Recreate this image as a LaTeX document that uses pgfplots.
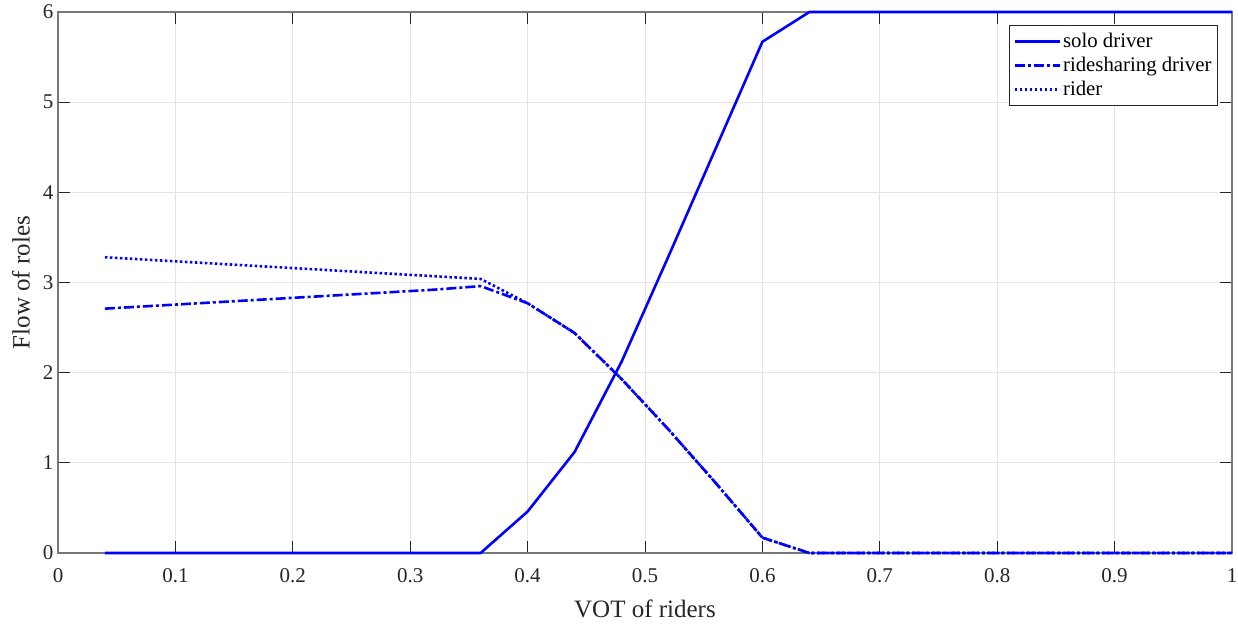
\documentclass[border=0pt]{standalone}
\usepackage{fontspec}
\setmainfont{Liberation Serif}
\usepackage{pgfplots}
\pgfplotsset{compat=1.18}
\definecolor{gridc}{RGB}{228,228,228}
\definecolor{axc}{RGB}{120,120,120}
\definecolor{mblue}{RGB}{0,0,255}
\begin{document}
\begin{tikzpicture}
\begin{axis}[
  scale only axis, width=1174pt, height=541pt,
  at={(0,0)}, anchor=south west,
  xmin=0, xmax=1, ymin=0, ymax=6,
  clip=false, no markers,
  xtick={0,0.1,0.2,0.3,0.4,0.5,0.6,0.7,0.8,0.9,1},
  xticklabels={0,0.1,0.2,0.3,0.4,0.5,0.6,0.7,0.8,0.9,1},
  ytick={0,1,2,3,4,5,6},
  yticklabels={0,1,2,3,4,5,6},
  xtick pos=both, ytick pos=both,
  tick align=inside, major tick length=12pt,
  grid=major, major grid style={gridc, line width=1pt},
  axis line style={axc, line width=1.3pt},
  tick style={black!85, line width=1pt},
  /pgf/number format/assume math mode=true,
  tick label style={font=\fontsize{21}{24}\selectfont, text=black!85},
  xticklabel style={yshift=-12pt},
  yticklabel style={xshift=-1pt},
  xlabel={VOT of riders}, ylabel={Flow of roles},
  label style={font=\fontsize{25}{28}\selectfont, text=black!85},
  x label style={at={(axis description cs:0.5,-0.103)}, anchor=center},
  y label style={at={(axis description cs:-0.0315,0.5)}, anchor=center},
  legend style={at={(axis description cs:1,1)}, anchor=north east,
    xshift=-14pt, yshift=-13pt, draw=black!85, line width=1pt,
    font=\fontsize{20.8}{24}\selectfont, inner xsep=4pt, inner ysep=6pt,
    row sep=4pt, fill=white, text=black},
  legend cell align=left,
  legend image code/.code={\draw[#1] (0pt,0pt) -- (45pt,0pt);},
  every axis plot/.append style={line width=2.6pt, color=mblue, line join=round},
]
\addplot coordinates {
(0.04,0) (0.08,0) (0.12,0) (0.16,0) (0.20,0) (0.24,0) (0.28,0) (0.32,0) (0.36,0)
(0.40,0.46) (0.44,1.12) (0.48,2.12) (0.52,3.29) (0.56,4.48) (0.60,5.67)
(0.64,6) (0.68,6) (0.72,6) (0.76,6) (0.80,6) (0.84,6) (0.88,6) (0.92,6) (0.96,6) (1.00,6)
};
\addlegendentry{solo driver}
\addplot[dash pattern=on 10pt off 3pt on 3pt off 3pt] coordinates {
(0.04,2.71) (0.08,2.74) (0.12,2.77) (0.16,2.80) (0.20,2.83) (0.24,2.86) (0.28,2.89) (0.32,2.92) (0.36,2.96)
(0.40,2.77) (0.44,2.44) (0.48,1.93) (0.52,1.37) (0.56,0.78) (0.60,0.17)
(0.64,0) (0.68,0) (0.72,0) (0.76,0) (0.80,0) (0.84,0) (0.88,0) (0.92,0) (0.96,0) (1.00,0)
};
\addlegendentry{ridesharing driver}
\addplot[dash pattern=on 2.5pt off 2.5pt] coordinates {
(0.04,3.28) (0.08,3.25) (0.12,3.22) (0.16,3.19) (0.20,3.16) (0.24,3.13) (0.28,3.10) (0.32,3.07) (0.36,3.04)
(0.40,2.77) (0.44,2.44) (0.48,1.93) (0.52,1.37) (0.56,0.78) (0.60,0.17)
(0.64,0) (0.68,0) (0.72,0) (0.76,0) (0.80,0) (0.84,0) (0.88,0) (0.92,0) (0.96,0) (1.00,0)
};
\addlegendentry{rider}
\end{axis}
\pgfresetboundingbox
\path (-58pt,-71pt) rectangle (1180pt,553pt);
\end{tikzpicture}
\end{document}
